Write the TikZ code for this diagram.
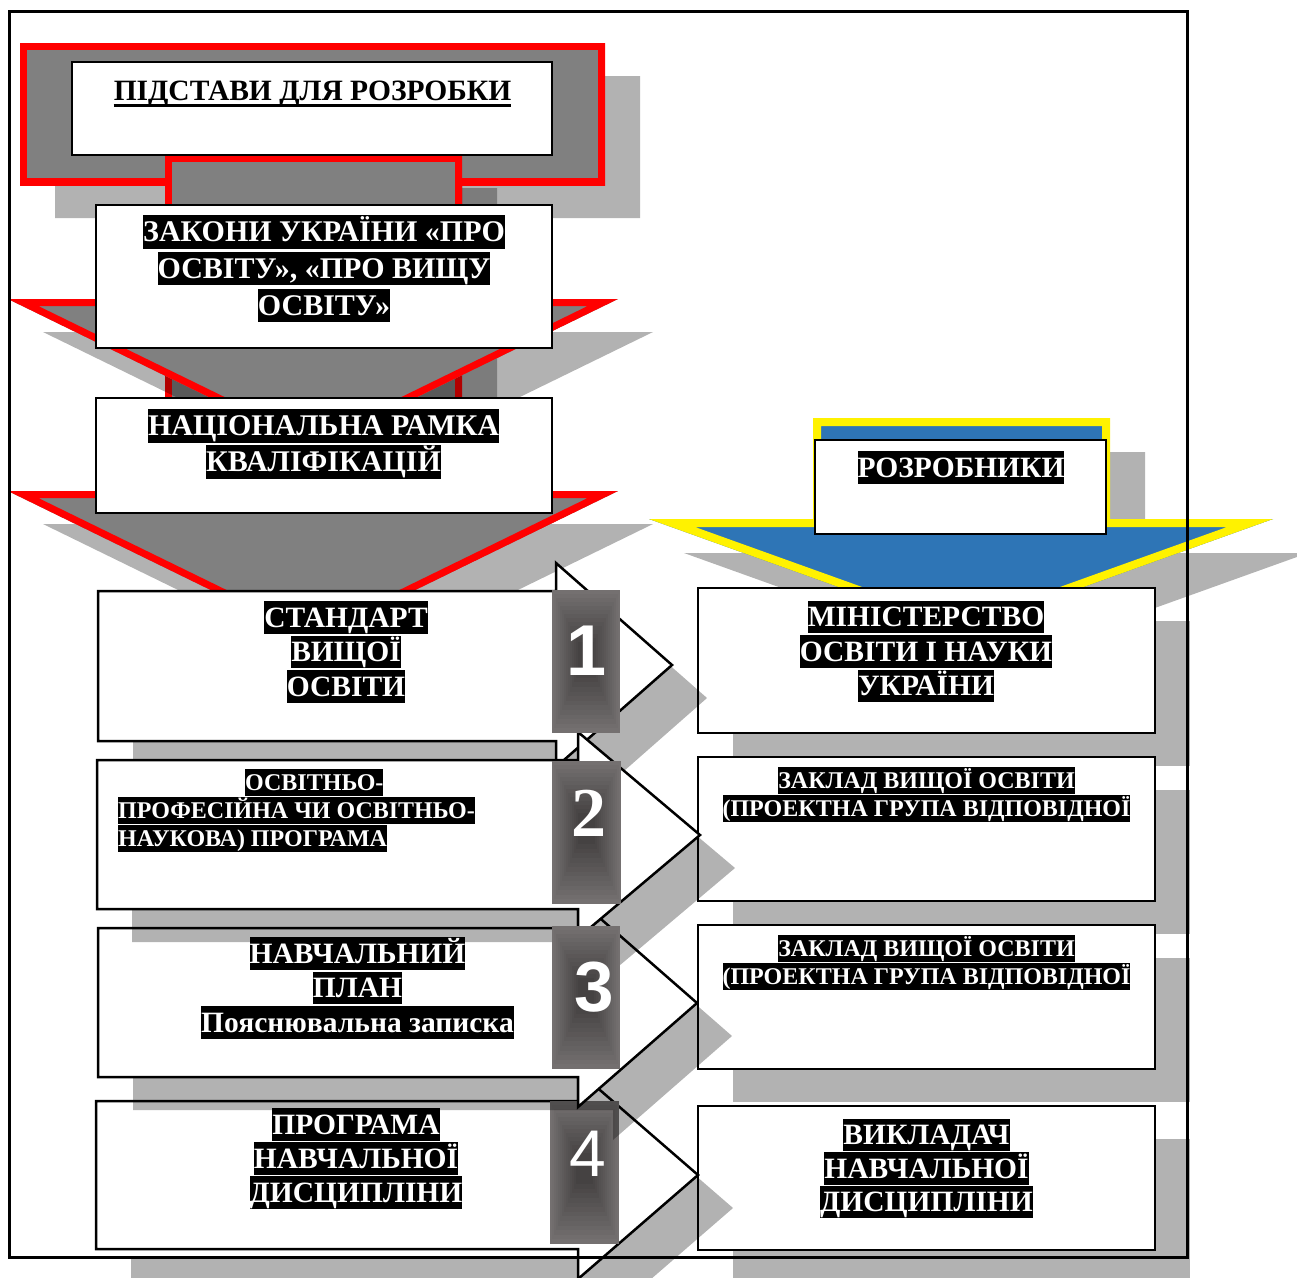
\documentclass[tikz,border=0pt]{standalone}
\usepackage{fontspec}
\setmainfont{Liberation Serif}
\newfontfamily\nsans{Liberation Sans}
\definecolor{hdrgray}{RGB}{128,128,128}
\definecolor{bblue}{RGB}{46,117,182}
\definecolor{nbout}{RGB}{116,112,112}
\definecolor{nbin}{RGB}{68,65,65}
\newcommand\hlb[1]{{\setlength{\fboxsep}{0pt}\colorbox{black}{\vrule height .89em depth .22em width 0pt\relax #1}}}
\newcommand\bordered[4]{\begin{scope}\clip #4;\fill[#1] #4;\draw[#2,line width=#3] #4;\end{scope}}
\newcommand\numbox[4]{\foreach \i in {0,...,13}{\pgfmathtruncatemacro\pc{\i*7.5}\fill[nbin!\pc!nbout] ({#1+\i*2.0},{#2+\i*4.0}) rectangle ({#3-\i*2.0},{#4-\i*4.6});}}
\begin{document}
\begin{tikzpicture}[x=1pt,y=-1pt,
  shd/.style={fill=black, fill opacity=0.3},
  txt/.style={align=center, inner sep=0pt, text=white, font=\bfseries\fontsize{29.5}{34.5}\selectfont},
  stxt/.style={txt, font=\bfseries\fontsize{24}{28}\selectfont},
  wbox/.style={draw=black, fill=white, line width=1.5pt},
  rbox/.style={draw=black, fill=white, line width=2.5pt},
  arr/.style={draw=black, fill=white, line width=2.5pt, line join=miter},
  num/.style={text=white, inner sep=0pt}]
\useasboundingbox (0,0) rectangle (1297,1277);
\fill[white] (0,0) rectangle (1297,1277);

% ---- callout 2 (lower red arrow)
\fill[shd, shift={(35,33)}] (165,155) -- (462,155) -- (462,491) -- (618,491) -- (313,640) -- (8,491) -- (165,491) -- cycle;
\bordered{hdrgray}{red}{14pt}{(165,155) -- (462,155) -- (462,500) -- (165,500) -- cycle}
\bordered{hdrgray}{red}{14pt}{(8,491) -- (618,491) -- (313,640) -- cycle}
% ---- callout 1 (header)
\fill[shd, shift={(35,33)}] (20,43) -- (605,43) -- (605,185) -- (462,185) -- (462,299) -- (618,299) -- (313,448) -- (8,299) -- (165,299) -- (165,185) -- (20,185) -- cycle;
\bordered{hdrgray}{red}{14pt}{(20,43) -- (605,43) -- (605,185) -- (20,185) -- cycle}
\bordered{hdrgray}{red}{14pt}{(165,155) -- (462,155) -- (462,310) -- (165,310) -- cycle}
\bordered{hdrgray}{red}{14pt}{(8,299) -- (618,299) -- (313,448) -- cycle}
% white boxes of the left column head
\draw[wbox] (72,62) rectangle (552,155);
\draw[wbox] (96,205) rectangle (552,348);
\draw[wbox] (96,398) rectangle (552,513);

% ---- blue callout
\fill[shd, shift={(35,34)}] (813,418) -- (1110,418) -- (1110,519) -- (1273,519) -- (961,631) -- (649,519) -- (813,519) -- cycle;
\bordered{bblue}{yellow}{16pt}{(813,418) -- (1110,418) -- (1110,519) -- (1273,519) -- (961,631) -- (649,519) -- (813,519) -- cycle}
\draw[wbox] (815,440) rectangle (1106,534);

% ---- right column boxes
\foreach \ya/\yb in {588/733, 757/901, 925/1069, 1106/1250}{
  \fill[shd, shift={(35,33)}] (698,\ya) rectangle (1155,\yb);
  \draw[rbox] (698,\ya) rectangle (1155,\yb);
}

% ---- arrow 4
\fill[shd, shift={(35,33)}] (96,1101) -- (578,1101) -- (578,1071) -- (698,1175) -- (578,1279) -- (578,1249) -- (96,1249) -- cycle;
\fill[white] (120,1250) rectangle (578,1256);
\draw[arr] (96,1101) -- (578,1101) -- (578,1071) -- (698,1175) -- (578,1279) -- (578,1249) -- (96,1249) -- cycle;
\numbox{550}{1101}{619}{1244}
% ---- arrow 3
\fill[shd, shift={(35,33)}] (98,928) -- (578,928) -- (578,899) -- (697,1003) -- (578,1107) -- (578,1077) -- (98,1077) -- cycle;
\draw[arr] (98,928) -- (578,928) -- (578,899) -- (697,1003) -- (578,1107) -- (578,1077) -- (98,1077) -- cycle;
% ---- arrow 1
\fill[shd, shift={(35,33)}] (98,591) -- (556,591) -- (556,563) -- (672,665) -- (556,767) -- (556,741) -- (98,741) -- cycle;
\draw[arr] (98,591) -- (556,591) -- (556,563) -- (672,665) -- (556,767) -- (556,741) -- (98,741) -- cycle;
% ---- arrow 2
\fill[shd, shift={(35,33)}] (97,760) -- (578,760) -- (578,732) -- (700,835) -- (578,938) -- (578,909) -- (97,909) -- cycle;
\draw[arr] (97,760) -- (578,760) -- (578,732) -- (700,835) -- (578,938) -- (578,909) -- (97,909) -- cycle;

% number boxes
\numbox{552}{590}{620}{733}
\numbox{552}{761}{621}{904}
\numbox{552}{926}{620}{1069}
\node[num, font=\nsans\bfseries\fontsize{72}{72}\selectfont] (n1) at (587,651) {1};
\node[num, font=\bfseries\fontsize{70}{70}\selectfont] (n2) at (589,813.5) {2};
\node[num, font=\nsans\bfseries\fontsize{71}{71}\selectfont] (n3) at (594,987.5) {3};
\node[num, font=\nsans\fontsize{66}{66}\selectfont] (n4) at (587.5,1153.5) {4};

% ---- texts
\node[font=\bfseries\fontsize{29.5}{34}\selectfont, inner sep=0pt, anchor=base] (hdr) at (312.5,100) {ПІДСТАВИ ДЛЯ РОЗРОБКИ};
\draw[line width=2.5pt] ([yshift=-5.5pt]hdr.base west) -- ([yshift=-5.5pt]hdr.base east);
\node[txt, font=\bfseries\fontsize{30}{36.7}\selectfont, anchor=north] (zak) at (324,215) {\hlb{ЗАКОНИ УКРАЇНИ «ПРО}\\\hlb{ОСВІТУ», «ПРО ВИЩУ}\\\hlb{ОСВІТУ»}};
\node[txt, font=\bfseries\fontsize{30}{36}\selectfont, anchor=north] (nrk) at (323.5,409) {\hlb{НАЦІОНАЛЬНА РАМКА}\\\hlb{КВАЛІФІКАЦІЙ}};
\node[txt, anchor=north] (roz) at (961,451) {\hlb{РОЗРОБНИКИ}};
\node[txt, anchor=north] (l1) at (346,601) {\hlb{СТАНДАРТ}\\\hlb{ВИЩОЇ}\\\hlb{ОСВІТИ}};
\node[stxt, align=left, anchor=north west] (l2) at (118,769) {\hspace*{127pt}\hlb{ОСВІТНЬО-}\\\hlb{ПРОФЕСІЙНА ЧИ ОСВІТНЬО-}\\\hlb{НАУКОВА) ПРОГРАМА}};
\node[txt, anchor=north] (l3) at (357.5,937) {\hlb{НАВЧАЛЬНИЙ}\\\hlb{ПЛАН}\\\hlb{Пояснювальна записка}};
\node[txt, font=\bfseries\fontsize{29.5}{34}\selectfont, anchor=north] (l4) at (356,1108) {\hlb{ПРОГРАМА}\\\hlb{НАВЧАЛЬНОЇ}\\\hlb{ДИСЦИПЛІНИ}};
\node[txt, anchor=north] (r1) at (926,600.5) {\hlb{МІНІСТЕРСТВО}\\\hlb{ОСВІТИ І НАУКИ}\\\hlb{УКРАЇНИ}};
\node[stxt, anchor=north] (r2) at (926.5,767) {\hlb{ЗАКЛАД ВИЩОЇ ОСВІТИ}\\\hlb{(ПРОЕКТНА ГРУПА ВІДПОВІДНОЇ}};
\node[stxt, anchor=north] (r3) at (926.5,935) {\hlb{ЗАКЛАД ВИЩОЇ ОСВІТИ}\\\hlb{(ПРОЕКТНА ГРУПА ВІДПОВІДНОЇ}};
\node[txt, font=\bfseries\fontsize{29.5}{33.5}\selectfont, anchor=north] (r4) at (926.5,1118.5) {\hlb{ВИКЛАДАЧ}\\\hlb{НАВЧАЛЬНОЇ}\\\hlb{ДИСЦИПЛІНИ}};

% ---- frame
\draw[line width=3pt] (9.5,11) rectangle (1187.5,1257.5);
\end{tikzpicture}
\end{document}
